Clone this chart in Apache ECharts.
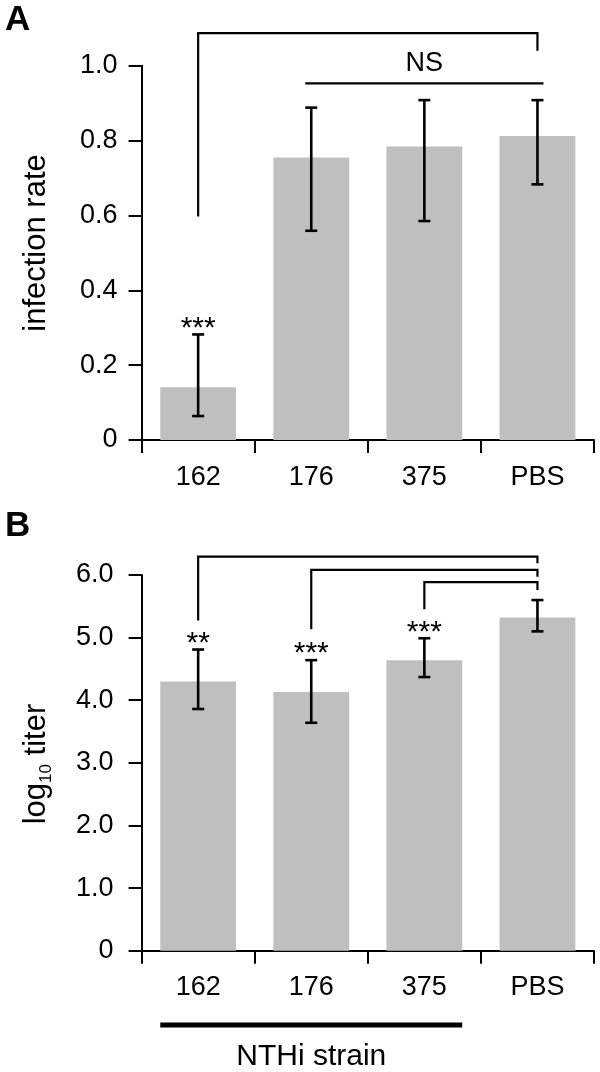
<!DOCTYPE html>
<html>
<head>
<meta charset="utf-8">
<script src="https://cdn.jsdelivr.net/npm/echarts@6/dist/echarts.min.js"></script>
<style>
html,body{margin:0;padding:0;background:#fff;}
#chart{width:600px;height:1072px;}
</style>
</head>
<body>
<div id="chart"></div>
<script>
// ---- data ----
const categories = ['162', '176', '375', 'PBS'];
// Panel A: infection rate
const rateA = [0.141, 0.755, 0.784, 0.812];
const rateAHigh = [0.282, 0.888, 0.908, 0.908];
const rateALow = [0.064, 0.559, 0.585, 0.683];
const starsA = ['***', '', '', ''];
// bracket: [fromCat, toCat, topValue, leftEndValue, rightEndValue]
const bracketsA = [[0, 3, 1.087, 0.597, 1.040]];
// NS line: [fromCat, toCat, lineValue, textValue]
const nsLineA = [[1, 3, 0.953, 1.006]];
// Panel B: log10 titer
const titerB = [4.30, 4.13, 4.64, 5.32];
const titerBHigh = [4.81, 4.64, 4.99, 5.60];
const titerBLow = [3.86, 3.64, 4.37, 5.10];
const starsB = ['**', '***', '***', ''];
const bracketsB = [
  [0, 3, 6.294, 5.272, 6.188],
  [1, 3, 6.081, 5.134, 5.974],
  [2, 3, 5.885, 5.454, 5.762]
];
// strain group bar under B: [fromCat, toCat, lineValue, labelValue]
const strainGroupB = [[0, 2, -1.187, -1.70]];

const FONT = 'Liberation Sans, Arial, sans-serif';
const TICK_FS = 27;
const STAR_FS = 30;
const BAR_W = 0.67;

function errorItem(params, api) {
  const i = api.value(0);
  const hi = api.coord([i, api.value(1)]);
  const lo = api.coord([i, api.value(2)]);
  const w = 6;
  const st = {stroke: '#000', lineWidth: 2.6};
  return {type: 'group', children: [
    {type: 'line', shape: {x1: hi[0], y1: hi[1], x2: lo[0], y2: lo[1]}, style: st},
    {type: 'line', shape: {x1: hi[0] - w, y1: hi[1], x2: hi[0] + w, y2: hi[1]}, style: st},
    {type: 'line', shape: {x1: lo[0] - w, y1: lo[1], x2: lo[0] + w, y2: lo[1]}, style: st}
  ]};
}
function bracketItem(params, api) {
  const a = api.value(0), b = api.value(1);
  const top = api.value(2), le = api.value(3), re = api.value(4);
  const p1 = api.coord([a, le]), p2 = api.coord([a, top]), p3 = api.coord([b, top]), p4 = api.coord([b, re]);
  return {type: 'polyline', shape: {points: [p1, p2, p3, p4]},
    style: {stroke: '#000', lineWidth: 2.2, fill: null}};
}
function nsItem(params, api) {
  const a = api.value(0), b = api.value(1), v = api.value(2), tv = api.value(3);
  const p1 = api.coord([a, v]), p2 = api.coord([b, v]);
  const pt = api.coord([(a + b) / 2, tv]);
  return {type: 'group', children: [
    {type: 'line', shape: {x1: p1[0] - 6, y1: p1[1], x2: p2[0] + 6, y2: p2[1]}, style: {stroke: '#000', lineWidth: 2.2}},
    {type: 'text', x: pt[0], y: pt[1], style: {text: 'NS', fill: '#000', font: TICK_FS + 'px ' + FONT, align: 'center', verticalAlign: 'middle'}}
  ]};
}
function groupItem(params, api) {
  const a = api.value(0), b = api.value(1), v = api.value(2), tv = api.value(3);
  const half = api.size([1, 0])[0] * BAR_W / 2;
  const p1 = api.coord([a, v]), p2 = api.coord([b, v]);
  const pt = api.coord([(a + b) / 2, tv]);
  return {type: 'group', children: [
    {type: 'line', shape: {x1: p1[0] - half, y1: p1[1], x2: p2[0] + half, y2: p2[1]}, style: {stroke: '#000', lineWidth: 5}},
    {type: 'text', x: pt[0], y: pt[1], style: {text: 'NTHi strain', fill: '#000', font: '30px ' + FONT, align: 'center', verticalAlign: 'middle'}}
  ]};
}

function xAxis(gi, margin) {
  return {
    type: 'category', gridIndex: gi, data: categories,
    axisLine: {lineStyle: {color: '#000', width: 2}},
    axisTick: {show: true, inside: false, length: 13, lineStyle: {color: '#000', width: 2}},
    axisLabel: {color: '#000', fontSize: TICK_FS, fontFamily: FONT, margin: margin},
    splitLine: {show: false}
  };
}
function yAxis(gi, max, interval, margin) {
  return {
    type: 'value', gridIndex: gi, min: 0, max: max, interval: interval,
    axisLine: {show: true, lineStyle: {color: '#000', width: 2}},
    axisTick: {show: true, inside: false, length: 13, lineStyle: {color: '#000', width: 2}},
    axisLabel: {color: '#000', fontSize: TICK_FS, fontFamily: FONT, margin: margin,
      formatter: v => (v === 0 ? '0' : v.toFixed(1))},
    splitLine: {show: false}
  };
}

function starSeries(xi, yi, stars, highs) {
  return {
    type: 'custom', xAxisIndex: xi, yAxisIndex: yi, z: 5, silent: true,
    data: categories.map((c, i) => [i, highs[i]]),
    renderItem: (params, api) => {
      const p = api.coord([api.value(0), api.value(1)]);
      return {type: 'text', x: p[0], y: p[1] - 6,
        style: {text: stars[params.dataIndex], fill: '#000', font: STAR_FS + 'px ' + FONT, align: 'center', verticalAlign: 'middle'}};
    }
  };
}

const chart = echarts.init(document.getElementById('chart'), null, {renderer: 'canvas'});
const errDataA = categories.map((c, i) => [i, rateAHigh[i], rateALow[i]]);
const errDataB = categories.map((c, i) => [i, titerBHigh[i], titerBLow[i]]);

chart.setOption({
  animation: false,
  backgroundColor: '#fff',
  grid: [
    {left: 141.6, right: 6, top: 65.7, bottom: 632},
    {left: 141.6, right: 6, top: 575, bottom: 121.3}
  ],
  xAxis: [xAxis(0, 24), xAxis(1, 23)],
  yAxis: [yAxis(0, 1.0, 0.2, 24), yAxis(1, 6.0, 1.0, 28)],
  graphic: [
    {type: 'text', x: 5, y: 20, style: {text: 'A', font: 'bold 35px ' + FONT, fill: '#000', align: 'left', verticalAlign: 'middle'}},
    {type: 'text', x: 5, y: 526, style: {text: 'B', font: 'bold 35px ' + FONT, fill: '#000', align: 'left', verticalAlign: 'middle'}},
    {type: 'text', x: 36, y: 243, rotation: Math.PI / 2,
      style: {text: 'infection rate', font: '31px ' + FONT, fill: '#000', align: 'center', verticalAlign: 'middle'}},
    {type: 'text', x: 36, y: 764, rotation: Math.PI / 2,
      style: {text: '{a|log}{b|10}{a| titer}', fill: '#000', align: 'center', verticalAlign: 'middle',
        rich: {
          a: {fontSize: 31, fontFamily: FONT, fill: '#000', lineHeight: 38},
          b: {fontSize: 17, fontFamily: FONT, fill: '#000', lineHeight: 17, verticalAlign: 'bottom'}
        }}}
  ],
  series: [
    {type: 'bar', xAxisIndex: 0, yAxisIndex: 0, data: rateA, barWidth: '67%',
      itemStyle: {color: '#bfbfbf'}, silent: true},
    {type: 'custom', xAxisIndex: 0, yAxisIndex: 0, z: 4, data: errDataA, renderItem: errorItem, silent: true},
    starSeries(0, 0, starsA, rateAHigh),
    {type: 'custom', xAxisIndex: 0, yAxisIndex: 0, z: 4, data: bracketsA, renderItem: bracketItem, silent: true},
    {type: 'custom', xAxisIndex: 0, yAxisIndex: 0, z: 4, data: nsLineA, renderItem: nsItem, silent: true},

    {type: 'bar', xAxisIndex: 1, yAxisIndex: 1, data: titerB, barWidth: '67%',
      itemStyle: {color: '#bfbfbf'}, silent: true},
    {type: 'custom', xAxisIndex: 1, yAxisIndex: 1, z: 4, data: errDataB, renderItem: errorItem, silent: true},
    starSeries(1, 1, starsB, titerBHigh),
    {type: 'custom', xAxisIndex: 1, yAxisIndex: 1, z: 4, data: bracketsB, renderItem: bracketItem, silent: true},
    {type: 'custom', xAxisIndex: 1, yAxisIndex: 1, z: 4, data: strainGroupB, renderItem: groupItem, silent: true}
  ]
});
</script>
</body>
</html>
